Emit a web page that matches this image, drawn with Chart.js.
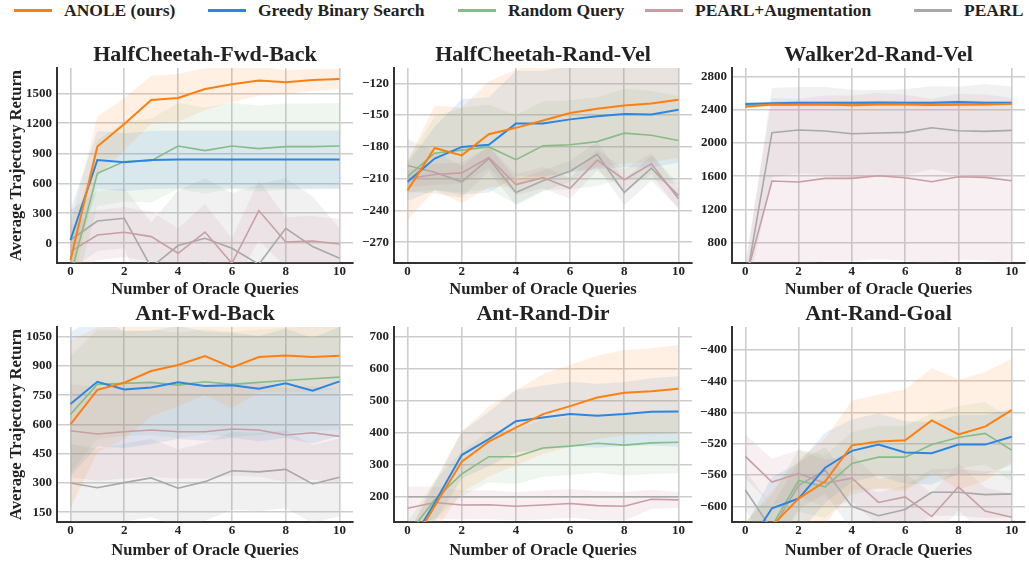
<!DOCTYPE html>
<html>
<head>
<meta charset="utf-8">
<script src="https://cdn.jsdelivr.net/npm/chart.js@4.4.1/dist/chart.umd.min.js"></script>
<style>
  body { margin: 0; width: 1029px; height: 561px; background: #fff; position: relative; overflow: hidden;
         font-family: "Liberation Serif", "Times New Roman", serif; }
  .legend .item { position: absolute; top: 0; height: 21px; display: flex; align-items: center;
                  font-weight: bold; font-size: 17.5px; color: #222; white-space: nowrap; }
  .legend .swatch { width: 38px; height: 3px; margin-right: 12px; }
  canvas { position: absolute; }
</style>
</head>
<body>
<div class="legend" id="legend"></div>
<script>
// 圖例 / 系列
const seriesNames = ["ANOLE (ours)", "Greedy Binary Search", "Random Query", "PEARL+Augmentation", "PEARL"];
const xQueries = [0, 1, 2, 3, 4, 5, 6, 7, 8, 9, 10];
const xTicks = [0, 2, 4, 6, 8, 10];

// HalfCheetah-Fwd-Back
const hcfbTicks = [0, 300, 600, 900, 1200, 1500];
const hcfbAnole = [-170, 967, 1193, 1433, 1453, 1543, 1590, 1627, 1610, 1633, 1643];
const hcfbAnoleSd = [350, 300, 260, 240, 240, 210, 180, 150, 120, 110, 100];
const hcfbGreedy = [33, 833, 810, 833, 838, 838, 838, 838, 838, 838, 838];
const hcfbGreedySd = [300, 290, 290, 290, 290, 290, 290, 290, 290, 290, 290];
const hcfbRandom = [-330, 700, 817, 827, 973, 927, 973, 947, 967, 967, 973];
const hcfbRandomSd = [300, 330, 400, 420, 430, 430, 430, 430, 430, 430, 430];
const hcfbAug = [-83, 83, 110, 67, -100, 113, -200, 327, 13, 23, -7];
const hcfbAugSd = [250, 250, 250, 250, 250, 280, 250, 300, 250, 250, 250];
const hcfbPearl = [33, 223, 250, -240, -23, 50, -50, -210, 150, -33, -150];
const hcfbPearlSd = [300, 300, 300, 450, 550, 600, 550, 800, 500, 500, 300];

// HalfCheetah-Rand-Vel
const hcrvTicks = [-270, -240, -210, -180, -150, -120];
const hcrvAnole = [-221, -181, -188, -168, -162, -155, -148, -144, -141, -139, -135.5];
const hcrvAnoleSd = [28, 40, 45, 50, 55, 55, 55, 55, 55, 55, 55];
const hcrvGreedy = [-213, -191, -180, -178, -158, -158, -154, -151, -149, -149.5, -145];
const hcrvGreedySd = [18, 30, 45, 45, 50, 50, 50, 50, 50, 50, 50];
const hcrvRandom = [-208, -186, -183, -180, -192, -179, -178, -175, -167, -169, -174];
const hcrvRandomSd = [15, 35, 40, 40, 42, 42, 42, 42, 42, 42, 42];
const hcrvAug = [-210, -206, -204.5, -190, -215.6, -209, -219, -192.5, -211, -196, -229];
const hcrvAugSd = [8, 10, 10, 10, 10, 10, 10, 10, 10, 10, 10];
const hcrvPearl = [-197.5, -204, -213, -191, -223, -212, -203, -187, -223, -200, -226];
const hcrvPearlSd = [25, 20, 15, 12, 12, 10, 10, 12, 12, 12, 12];

// Walker2d-Rand-Vel
const wkrvTicks = [800, 1200, 1600, 2000, 2400, 2800];
const wkrvAnole = [2439, 2465, 2463, 2465, 2455, 2465, 2465, 2459, 2463, 2465, 2475];
const wkrvAnoleSd = [20, 20, 20, 20, 20, 20, 20, 20, 20, 20, 20];
const wkrvGreedy = [2470, 2480, 2487, 2487, 2485, 2490, 2487, 2487, 2495, 2487, 2487];
const wkrvGreedySd = [20, 20, 20, 20, 20, 20, 20, 20, 20, 20, 20];
const wkrvRandom = [2450, 2465, 2470, 2470, 2468, 2470, 2470, 2468, 2470, 2470, 2472];
const wkrvRandomSd = [20, 20, 20, 20, 20, 20, 20, 20, 20, 20, 20];
const wkrvAug = [350, 1543, 1531, 1575, 1575, 1607, 1583, 1535, 1595, 1587, 1547];
const wkrvAugSd = [200, 1000, 1000, 1000, 1000, 1000, 1000, 1000, 1000, 1000, 1000];
const wkrvPearl = [280, 2125, 2157, 2145, 2113, 2121, 2129, 2185, 2149, 2141, 2153];
const wkrvPearlSd = [200, 540, 520, 530, 530, 520, 520, 500, 530, 570, 530];

// Ant-Fwd-Back
const afbTicks = [150, 300, 450, 600, 750, 900, 1050];
const afbAnole = [601, 778, 814, 874, 905, 951, 893, 946, 954, 946, 953];
const afbAnoleSd = [430, 320, 290, 230, 210, 200, 210, 180, 190, 180, 170];
const afbGreedy = [705, 819, 780, 790, 816, 797, 801, 784, 811, 773, 821];
const afbGreedySd = [370, 330, 300, 290, 290, 280, 270, 270, 280, 270, 280];
const afbRandom = [652, 806, 811, 816, 802, 819, 806, 816, 826, 835, 843];
const afbRandomSd = [300, 280, 270, 270, 270, 270, 270, 270, 270, 270, 270];
const afbAug = [568, 551, 563, 572, 563, 563, 577, 572, 546, 558, 539];
const afbAugSd = [240, 240, 240, 240, 240, 240, 240, 240, 240, 240, 240];
const afbPearl = [300, 276, 302, 326, 273, 307, 363, 357, 370, 295, 329];
const afbPearlSd = [200, 200, 200, 200, 200, 200, 200, 200, 200, 200, 200];

// Ant-Rand-Dir
const ardTicks = [200, 300, 400, 500, 600, 700];
const ardAnole = [30, 170, 309, 372, 416, 458, 483, 510, 525, 529, 537];
const ardAnoleSd = [50, 80, 95, 110, 117, 125, 128, 130, 133, 135, 137];
const ardGreedy = [40, 180, 330, 380, 436, 447, 458, 453, 458, 465, 466];
const ardGreedySd = [40, 60, 73, 85, 97, 100, 100, 100, 100, 105, 110];
const ardRandom = [80, 190, 271, 325, 325, 352, 358, 367, 361, 368, 370];
const ardRandomSd = [40, 60, 70, 80, 85, 90, 90, 92, 95, 97, 97];
const ardAug = [164, 182, 174, 175, 170, 174, 179, 172, 170, 192, 190];
const ardAugSd = [67, 50, 45, 45, 45, 45, 45, 45, 45, 30, 25];
const ardPearl = [200, 200, 200, 200, 200, 200, 200, 200, 200, 200, 200];
const ardPearlSd = [0, 0, 0, 0, 0, 0, 0, 0, 0, 0, 0];

// Ant-Rand-Goal
const argTicks = [-600, -560, -520, -480, -440, -400];
const argAnole = [-660, -625, -590, -568, -522, -517, -515.6, -490, -508, -498, -477];
const argAnoleSd = [40, 45, 50, 55, 57, 60, 65, 67, 70, 70, 66];
const argGreedy = [-655, -602.5, -590, -550.5, -529, -521, -531, -532, -521, -521, -511];
const argGreedySd = [30, 40, 45, 45, 40, 40, 40, 40, 38, 38, 36];
const argRandom = [-660, -625, -567, -575, -545, -537, -537, -521, -512, -506.6, -528];
const argRandomSd = [40, 40, 40, 40, 40, 40, 40, 40, 40, 40, 40];
const argAug = [-536, -569, -558, -570.5, -564, -595, -588, -613, -575, -606, -614];
const argAugSd = [28, 30, 30, 30, 30, 30, 30, 30, 30, 30, 30];
const argPearl = [-579, -630, -573, -554, -600, -612, -604, -582, -582, -585, -584];
const argPearlSd = [25, 30, 30, 30, 30, 30, 30, 30, 30, 30, 30];

const lineColors = ["#ff7f0e", "#2b86e3", "#86bd86", "#c89ea4", "#a8a8a8"];
const bandColors = ["rgba(255,140,40,0.13)", "rgba(60,140,220,0.13)", "rgba(120,185,120,0.12)",
                    "rgba(200,150,158,0.15)", "rgba(160,160,160,0.15)"];
const lineWidths = [2, 2, 1.6, 1.6, 1.6];
const legendLeft = [14, 208, 458, 645, 914];

const FONT = "'Liberation Serif', 'Times New Roman', serif";
const TEXT = "#222";
const GRID = "#cdcdcd";

const panels = [
    { title: "HalfCheetah-Fwd-Back", yMin: -197, yMax: 1753, yTicks: hcfbTicks,
      mean: [hcfbAnole, hcfbGreedy, hcfbRandom, hcfbAug, hcfbPearl],
      sd: [hcfbAnoleSd, hcfbGreedySd, hcfbRandomSd, hcfbAugSd, hcfbPearlSd] },
    { title: "HalfCheetah-Rand-Vel", yMin: -289.6, yMax: -105.5, yTicks: hcrvTicks,
      mean: [hcrvAnole, hcrvGreedy, hcrvRandom, hcrvAug, hcrvPearl],
      sd: [hcrvAnoleSd, hcrvGreedySd, hcrvRandomSd, hcrvAugSd, hcrvPearlSd] },
    { title: "Walker2d-Rand-Vel", yMin: 555, yMax: 2905, yTicks: wkrvTicks,
      mean: [wkrvAnole, wkrvGreedy, wkrvRandom, wkrvAug, wkrvPearl],
      sd: [wkrvAnoleSd, wkrvGreedySd, wkrvRandomSd, wkrvAugSd, wkrvPearlSd] },
    { title: "Ant-Fwd-Back", yMin: 100, yMax: 1100, yTicks: afbTicks,
      mean: [afbAnole, afbGreedy, afbRandom, afbAug, afbPearl],
      sd: [afbAnoleSd, afbGreedySd, afbRandomSd, afbAugSd, afbPearlSd] },
    { title: "Ant-Rand-Dir", yMin: 121, yMax: 730, yTicks: ardTicks,
      mean: [ardAnole, ardGreedy, ardRandom, ardAug, ardPearl],
      sd: [ardAnoleSd, ardGreedySd, ardRandomSd, ardAugSd, ardPearlSd] },
    { title: "Ant-Rand-Goal", yMin: -620, yMax: -370.6, yTicks: argTicks,
      mean: [argAnole, argGreedy, argRandom, argAug, argPearl],
      sd: [argAnoleSd, argGreedySd, argRandomSd, argAugSd, argPearlSd] }
];

// 版面：欄 / 列
const cols = [
    { left: 0, width: 356, yW: 57, padR: 3 },
    { left: 358, width: 337, yW: 36, padR: 3 },
    { left: 695, width: 334, yW: 37, padR: 4 }
];
const rows = [
    { top: 40, height: 260, xH: 37, titlePad: { top: 4, bottom: 2 }, xTitlePad: 2 },
    { top: 300, height: 261, xH: 39, titlePad: { top: 3, bottom: 2 }, xTitlePad: 6 }
];

function fmtNum(v) {
    return String(v).replace("-", "\u2212");
}

// 圖例
const legendEl = document.getElementById("legend");
seriesNames.forEach((name, i) => {
    const item = document.createElement("div");
    item.className = "item";
    item.style.left = legendLeft[i] + "px";
    item.innerHTML = '<span class="swatch" style="background:' + lineColors[i] + '"></span><span>' + name + "</span>";
    legendEl.appendChild(item);
});

panels.forEach((p, idx) => {
    const col = cols[idx % 3];
    const row = rows[Math.floor(idx / 3)];
    const cv = document.createElement("canvas");
    cv.width = col.width;
    cv.height = row.height;
    cv.style.left = col.left + "px";
    cv.style.top = row.top + "px";
    document.body.appendChild(cv);

    const datasets = [];
    // 平均線
    seriesNames.forEach((name, i) => {
        datasets.push({
            label: name,
            data: xQueries.map((x, k) => ({ x, y: p.mean[i][k] })),
            borderColor: lineColors[i],
            borderWidth: lineWidths[i],
            pointRadius: 0,
            fill: false,
            order: 0
        });
    });
    // 標準差區間
    seriesNames.forEach((name, i) => {
        datasets.push({
            label: name + " lo",
            data: xQueries.map((x, k) => ({ x, y: p.mean[i][k] - p.sd[i][k] })),
            borderWidth: 0,
            pointRadius: 0,
            fill: false,
            order: 1
        });
        datasets.push({
            label: name + " hi",
            data: xQueries.map((x, k) => ({ x, y: p.mean[i][k] + p.sd[i][k] })),
            borderWidth: 0,
            pointRadius: 0,
            backgroundColor: bandColors[i],
            fill: "-1",
            order: 1
        });
    });

    const isLeft = idx % 3 === 0;
    new Chart(cv.getContext("2d"), {
        type: "line",
        data: { datasets },
        options: {
            responsive: false,
            animation: false,
            layout: { padding: { left: 0, right: col.padR, top: 0, bottom: 0 } },
            elements: { line: { tension: 0 } },
            plugins: {
                legend: { display: false },
                tooltip: { enabled: false },
                title: {
                    display: true,
                    text: p.title,
                    fullSize: false,
                    color: TEXT,
                    font: { family: FONT, size: 22, weight: "bold", lineHeight: 1.0 },
                    padding: row.titlePad
                }
            },
            scales: {
                x: {
                    type: "linear",
                    min: -0.5,
                    max: 10.5,
                    afterBuildTicks: s => { s.ticks = xTicks.map(v => ({ value: v })); },
                    afterFit: s => { s.height = row.xH; },
                    grid: { color: GRID, lineWidth: 1.6, drawTicks: false },
                    border: { display: true, color: "#333", width: 2 },
                    ticks: { color: TEXT, padding: 1, maxRotation: 0, autoSkip: false,
                             font: { family: FONT, size: 13, weight: "bold" }, callback: v => fmtNum(v) },
                    title: { display: true, text: "Number of Oracle Queries", color: TEXT,
                             font: { family: FONT, size: 16.5, weight: "bold", lineHeight: 1.2 },
                             padding: { top: row.xTitlePad, bottom: 0 } }
                },
                y: {
                    min: p.yMin,
                    max: p.yMax,
                    afterBuildTicks: s => { s.ticks = p.yTicks.map(v => ({ value: v })); },
                    afterFit: s => { s.width = col.yW; },
                    grid: { color: GRID, lineWidth: 1.6, drawTicks: false },
                    border: { display: true, color: "#333", width: 2 },
                    ticks: { color: TEXT, padding: 5, autoSkip: false,
                             font: { family: FONT, size: 13, weight: "bold" }, callback: v => fmtNum(v) },
                    title: { display: isLeft, text: "Average Trajectory Return", color: TEXT,
                             font: { family: FONT, size: 16.5, weight: "bold", lineHeight: 1.2 },
                             padding: { top: 7, bottom: 0 } }
                }
            }
        }
    });
});
</script>
</body>
</html>
